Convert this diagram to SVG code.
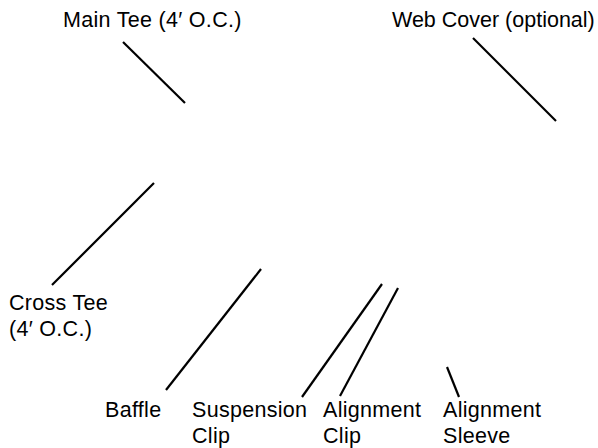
<svg xmlns="http://www.w3.org/2000/svg" width="598" height="448" viewBox="0 0 598 448">
<style>
text{font-family:"Liberation Sans",Arial,sans-serif;font-size:21.5px;letter-spacing:0.3px;fill:#000}
text.tight{letter-spacing:0}
line{stroke:#000;stroke-width:2.2;fill:none}
</style>
<rect width="598" height="448" fill="#fff"/>
<g id="connectors">
<line x1="123" y1="42" x2="185" y2="103"/>
<line x1="473" y1="38" x2="556" y2="121"/>
<line x1="154" y1="183" x2="52" y2="285"/>
<line x1="261" y1="269" x2="166" y2="390"/>
<line x1="382" y1="284" x2="302" y2="397"/>
<line x1="398" y1="288" x2="340" y2="396"/>
<line x1="447" y1="367" x2="459" y2="397"/>
</g>
<g id="main-tee"><text x="63" y="26.5">Main Tee (4′ O.C.)</text></g>
<g id="web-cover"><text class="tight" x="392" y="27">Web Cover (optional)</text></g>
<g id="cross-tee"><text x="9" y="310">Cross Tee</text><text x="9" y="336">(4′ O.C.)</text></g>
<g id="baffle"><text x="105" y="417">Baffle</text></g>
<g id="suspension-clip"><text x="192" y="417">Suspension</text><text x="192" y="443">Clip</text></g>
<g id="alignment-clip"><text x="323" y="417">Alignment</text><text x="323" y="443">Clip</text></g>
<g id="alignment-sleeve"><text x="443" y="417">Alignment</text><text x="443" y="443">Sleeve</text></g>
</svg>
